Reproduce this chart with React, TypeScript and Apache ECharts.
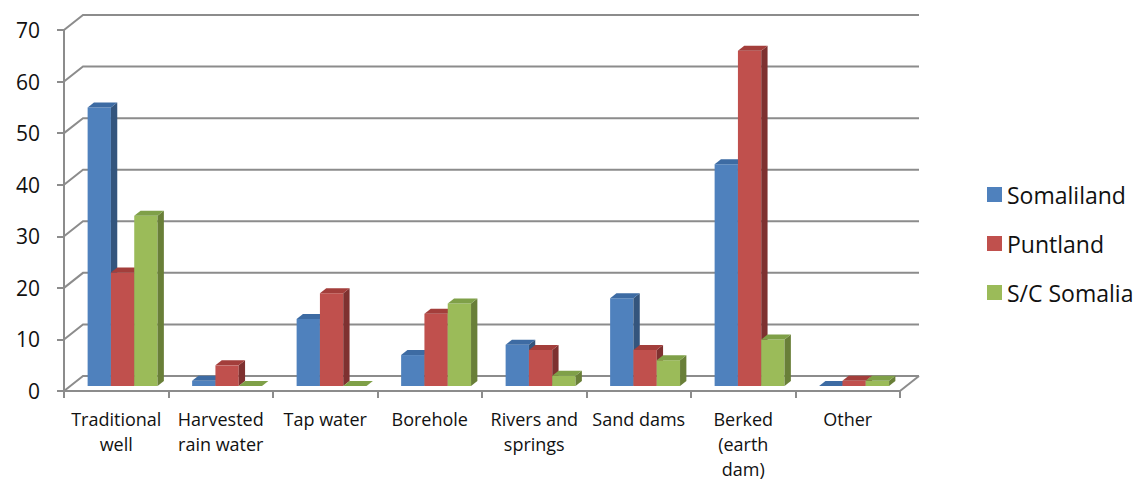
import React, { useEffect, useRef } from "react";
import * as echarts from "echarts";

// Water source categories (x axis)
const categories = [
  "Traditional\nwell",
  "Harvested\nrain water",
  "Tap water",
  "Borehole",
  "Rivers and\nsprings",
  "Sand dams",
  "Berked\n(earth\ndam)",
  "Other",
];

// Percentages per region
const somaliland = [54, 1, 13, 6, 8, 17, 43, 0];
const puntland = [22, 4, 18, 14, 7, 7, 65, 1];
const scSomalia = [33, 0, 0, 16, 2, 5, 9, 1];

const seriesNames = ["Somaliland", "Puntland", "S/C Somalia"];

// Y axis ticks
const yTicks = [0, 10, 20, 30, 40, 50, 60, 70];

// Face colours per series: front, side, top
const palettes = [
  { front: "#4F81BD", side: "#34557D", top: "#3D6BA3" },
  { front: "#C0504D", side: "#7E3130", top: "#A33E3B" },
  { front: "#9BBB59", side: "#697F38", top: "#7FA048" },
];

// Depth of the plot box (back wall offset) in pixels
const DX = 19;
const DY = 15;
const GRID_COLOR = "#8C8C8C";
const FONT = "'Open Sans', sans-serif";

export default function App() {
  const ref = useRef<HTMLDivElement>(null);

  useEffect(() => {
    document.body.style.margin = "0";
    const chart = echarts.init(ref.current!, null, { renderer: "svg" });

    // Back wall and floor lines for each tick value
    const wallSeries = {
      type: "custom",
      name: "wall",
      silent: true,
      z: 1,
      data: yTicks.map((v) => [0, v]),
      encode: { x: 0, y: 1 },
      renderItem: (params: any, api: any) => {
        const cs = params.coordSys;
        const y = api.coord([0, api.value(1)])[1];
        const xl = cs.x;
        const xr = cs.x + cs.width;
        const style = { stroke: GRID_COLOR, lineWidth: 2, fill: "none" };
        const children: any[] = [
          {
            type: "polyline",
            shape: { points: [[xl, y], [xl + DX, y - DY], [xr + DX, y - DY]] },
            style,
          },
        ];
        if (api.value(1) === 0) {
          children.push({
            type: "line",
            shape: { x1: xr, y1: y, x2: xr + DX, y2: y - DY },
            style,
          });
        }
        return { type: "group", children };
      },
    };

    const datasets = [somaliland, puntland, scSomalia];
    const barSeries = datasets.map((vals, si) => ({
      type: "custom",
      name: seriesNames[si],
      itemStyle: { color: palettes[si].front },
      z: 2,
      data: vals.map((v, i) => [i, v]),
      encode: { x: 0, y: 1 },
      renderItem: (params: any, api: any) => {
        const pal = palettes[si];
        const band = api.size([1, 0])[0];
        const [cx, yTop0] = api.coord([api.value(0), api.value(1)]);
        const yBase0 = api.coord([api.value(0), 0])[1];
        const w = band * 0.223;
        const f1 = 1 / 3;
        const f2 = 2 / 3;
        const ox = DX * f1;
        const oy = DY * f1;
        const sx = DX * (f2 - f1);
        const sy = DY * (f2 - f1);
        const x0 = cx + ox + (si - 1.5) * w;
        const yTop = yTop0 - oy;
        const yBase = yBase0 - oy;
        const children: any[] = [];
        if (yBase - yTop > 0.1) {
          children.push({
            type: "rect",
            shape: { x: x0, y: yTop, width: w, height: yBase - yTop },
            style: { fill: pal.front },
          });
          children.push({
            type: "polygon",
            shape: {
              points: [
                [x0 + w, yTop],
                [x0 + w + sx, yTop - sy],
                [x0 + w + sx, yBase - sy],
                [x0 + w, yBase],
              ],
            },
            style: { fill: pal.side },
          });
        }
        children.push({
          type: "polygon",
          shape: {
            points: [
              [x0, yTop],
              [x0 + sx, yTop - sy],
              [x0 + w + sx, yTop - sy],
              [x0 + w, yTop],
            ],
          },
          style: { fill: pal.top },
        });
        return { type: "group", children };
      },
    }));

    chart.setOption({
      animation: false,
      textStyle: { fontFamily: FONT },
      grid: { left: 64, right: 238, top: 30, bottom: 88 },
      legend: {
        orient: "vertical",
        left: 987,
        top: 183,
        padding: 0,
        itemWidth: 15,
        itemHeight: 15,
        itemGap: 26,
        icon: "rect",
        data: seriesNames,
        textStyle: {
          fontFamily: FONT,
          fontSize: 23,
          color: "#111",
          lineHeight: 23,
          padding: [0, 0, 0, 0],
        },
      },
      xAxis: {
        type: "category",
        data: categories,
        boundaryGap: true,
        axisLine: { show: true, lineStyle: { color: GRID_COLOR, width: 2 } },
        axisTick: {
          show: true,
          length: 7,
          alignWithLabel: false,
          lineStyle: { color: GRID_COLOR, width: 2 },
        },
        axisLabel: {
          interval: 0,
          margin: 15,
          fontFamily: FONT,
          fontSize: 18,
          lineHeight: 25,
          color: "#111",
        },
        splitLine: { show: false },
      },
      yAxis: {
        type: "value",
        min: 0,
        max: 70,
        interval: 10,
        axisLine: { show: true, lineStyle: { color: GRID_COLOR, width: 2 } },
        axisTick: { show: true, length: 7, lineStyle: { color: GRID_COLOR, width: 2 } },
        axisLabel: {
          margin: 24,
          fontFamily: FONT,
          fontSize: 21,
          color: "#111",
        },
        splitLine: { show: false },
      },
      series: [wallSeries, ...barSeries],
    });

    return () => chart.dispose();
  }, []);

  return <div ref={ref} style={{ width: 1138, height: 481 }} />;
}
